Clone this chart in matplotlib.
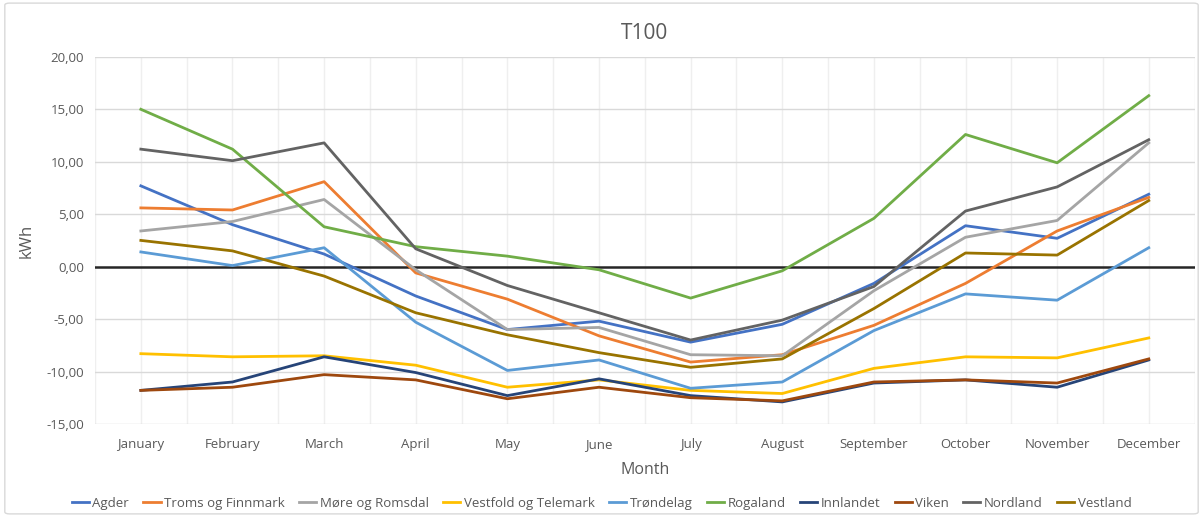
import matplotlib
matplotlib.use("Agg")
import matplotlib.pyplot as plt
from matplotlib.patches import FancyBboxPatch
from matplotlib.ticker import FuncFormatter

months = ["January", "February", "March", "April", "May", "June", "July",
          "August", "September", "October", "November", "December"]

agder = [7.7, 4.0, 1.2, -2.8, -6.0, -5.2, -7.2, -5.5, -1.6, 3.9, 2.7, 6.9]
troms = [5.6, 5.4, 8.1, -0.6, -3.1, -6.6, -9.1, -8.4, -5.6, -1.6, 3.4, 6.6]
more = [3.4, 4.3, 6.4, -0.3, -6.0, -5.8, -8.4, -8.5, -2.3, 2.8, 4.4, 11.8]
vestfold = [-8.3, -8.6, -8.5, -9.4, -11.5, -10.8, -11.8, -12.1, -9.7, -8.6, -8.7, -6.8]
trondelag = [1.4, 0.1, 1.8, -5.3, -9.9, -8.9, -11.6, -11.0, -6.1, -2.6, -3.2, 1.8]
rogaland = [15.0, 11.2, 3.8, 1.9, 1.0, -0.3, -3.0, -0.4, 4.6, 12.6, 9.9, 16.3]
innlandet = [-11.8, -11.0, -8.6, -10.1, -12.3, -10.7, -12.3, -12.9, -11.1, -10.8, -11.5, -8.9]
viken = [-11.8, -11.5, -10.3, -10.8, -12.6, -11.5, -12.5, -12.8, -11.0, -10.8, -11.1, -8.8]
nordland = [11.2, 10.1, 11.8, 1.7, -1.8, -4.4, -7.0, -5.1, -1.9, 5.3, 7.6, 12.1]
vestland = [2.5, 1.5, -0.9, -4.4, -6.5, -8.2, -9.6, -8.8, -4.0, 1.3, 1.1, 6.3]

series_names = ["Agder", "Troms og Finnmark", "Møre og Romsdal", "Vestfold og Telemark",
                "Trøndelag", "Rogaland", "Innlandet", "Viken", "Nordland", "Vestland"]
series_values = [agder, troms, more, vestfold, trondelag, rogaland, innlandet, viken,
                 nordland, vestland]
colors = ["#4472C4", "#ED7D31", "#A5A5A5", "#FFC000", "#5B9BD5", "#70AD47",
          "#264478", "#9E480E", "#636363", "#997300"]

plt.rcParams['font.family'] = ['Open Sans', 'DejaVu Sans']

fig = plt.figure(figsize=(12.03, 5.17), dpi=100)
border = FancyBboxPatch((0.004, 0.006), 0.992, 0.988, boxstyle="round,pad=0,rounding_size=0.004",
                        transform=fig.transFigure, facecolor="white", edgecolor="#d9d9d9",
                        linewidth=1.0, zorder=-10)
fig.patches.append(border)

ax = fig.add_axes([0.079, 0.180, 0.914, 0.710])
x = list(range(len(months)))

for name, vals, c in zip(series_names, series_values, colors):
    ax.plot(x, vals, color=c, linewidth=2.0, label=name, zorder=3)

ax.set_xlim(-0.5, len(months) - 0.5)
ax.set_ylim(-15, 20)
ax.set_yticks([-15, -10, -5, 0, 5, 10, 15, 20])
ax.yaxis.set_major_formatter(FuncFormatter(lambda v, p: f"{v:.2f}".replace(".", ",")))
ax.set_xticks(x)
ax.set_xticklabels(months)

# gridlines
for yv in [-15, -10, -5, 5, 10, 15, 20]:
    ax.axhline(yv, color="#d9d9d9", linewidth=1.0, zorder=1)
for xv in [i * 0.5 - 0.5 for i in range(0, 2 * len(months) + 1)]:
    ax.axvline(xv, color="#efefef", linewidth=1.0, zorder=0)
ax.axhline(0, color="#262626", linewidth=1.8, zorder=2)

for s in ax.spines.values():
    s.set_visible(False)
ax.tick_params(axis='both', length=0, colors="#595959", labelsize=9.5)
ax.tick_params(axis='x', pad=10)
ax.tick_params(axis='y', pad=8)

ax.set_title("T100", fontsize=15, color="#595959", pad=13)
ax.set_xlabel("Month", fontsize=11.5, color="#595959", labelpad=8)
ax.set_ylabel("kWh", fontsize=12, color="#595959", labelpad=8)

leg = fig.legend(loc="center", bbox_to_anchor=(0.5, 0.027), ncol=10, frameon=False,
                 fontsize=9.5, handlelength=1.3, handletextpad=0.25, columnspacing=1.1)
for t in leg.get_texts():
    t.set_color("#595959")

fig.savefig("out.png", dpi=100)
